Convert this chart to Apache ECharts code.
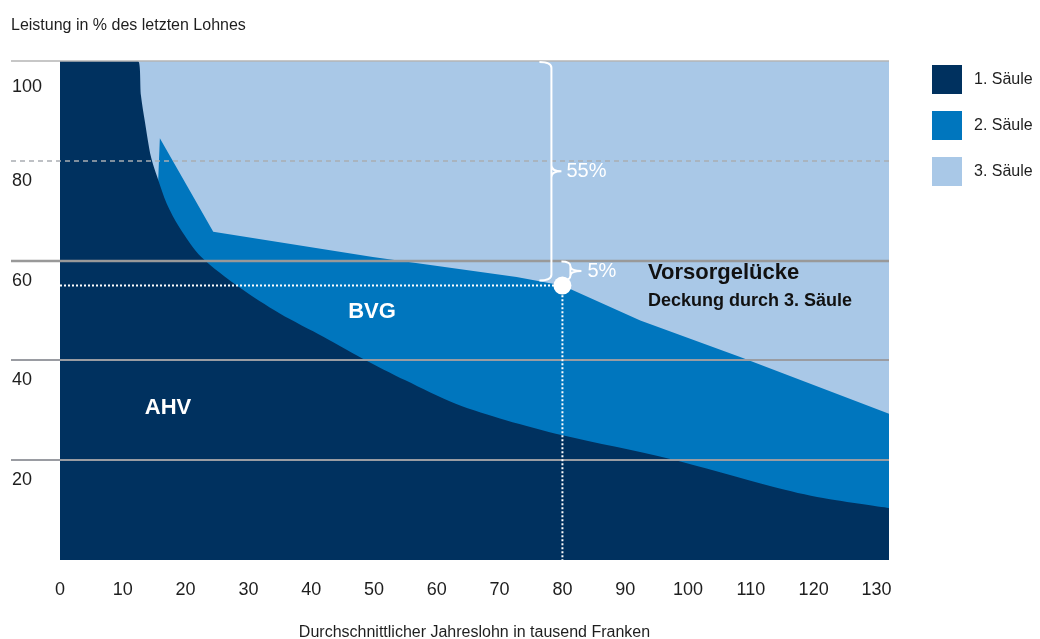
<!DOCTYPE html>
<html>
<head>
<meta charset="utf-8">
<script src="https://cdn.jsdelivr.net/npm/echarts@6/dist/echarts.min.js"></script>
<style>
  html, body { margin: 0; padding: 0; background: #ffffff; }
  #chart { width: 1040px; height: 639px; }
</style>
</head>
<body>
<div id="chart"></div>
<script>
// Salary in thousand CHF (x) against benefit in % of the last salary (y)

// 1st pillar (AHV)
const ahvSalary = [0, 12.4, 12.9, 13.5, 14.5, 15.5, 17, 19, 22.5, 28.5, 35, 42, 48, 55, 63, 71, 80, 97, 113.5, 121.5, 132];
const ahvRate   = [100, 100, 93, 88, 80.7, 76.7, 71.4, 66.7, 60.7, 54.7, 49.4, 44.7, 40.5, 36, 31.3, 28, 25, 20.3, 14.7, 12.4, 10.4];

// Level reached by 1st + 2nd pillar (AHV + BVG)
const bvgSalary = [15.6, 15.9, 24.4, 49.8, 72.7, 80, 92.4, 108.3, 132];
const bvgRate   = [75, 84.5, 65.8, 60.7, 56.7, 55, 48, 40.7, 29.3];

// 3rd pillar fills the remaining gap up to 100 %
const fullSalary = [0, 132];
const fullRate   = [100, 100];

// Example case: 80'000 CHF salary, 55 % covered, 60 % target
const exampleSalary = 80;
const exampleCover = 55;
const targetRate = 60;
const braceTops = [100, targetRate];
const braceLabels = ['55%', '5%'];

// Axis ticks
const xTicks = [0, 10, 20, 30, 40, 50, 60, 70, 80, 90, 100, 110, 120, 130];
const gridLevels = [100, 80, 60, 40, 20];

const seriesNames = ['1. Säule', '2. Säule', '3. Säule'];

const FONT = '"Liberation Sans", Arial, Helvetica, sans-serif';
const C_DARK = '#00315F';
const C_MID = '#0076BE';
const C_LIGHT = '#A9C8E7';
const C_TEXT = '#1e1e1e';

const zip = (xs, ys) => xs.map((x, i) => [x, ys[i]]);

const gridLineStyle = {
  100: { stroke: '#b4b4b4', lineWidth: 1.5 },
  80:  { stroke: '#a9adb3', lineWidth: 1.5, lineDash: [5, 4] },
  60:  { stroke: '#999999', lineWidth: 2.5 },
  40:  { stroke: '#9a9ca2', lineWidth: 2 },
  20:  { stroke: '#9a9ca2', lineWidth: 2 }
};

// brace geometry relative to the example point (pixels)
const braceShape = [
  { dx: -11, hook: 12, tip: 10, labelGap: 5 },
  { dx: 8, hook: 9, tip: 11, labelGap: 6 }
];

const chart = echarts.init(document.getElementById('chart'), null, { renderer: 'canvas' });

const option = {
  animation: false,
  textStyle: { fontFamily: FONT },
  title: {
    text: 'Leistung in % des letzten Lohnes',
    left: 11,
    top: 18,
    padding: 0,
    textStyle: { fontSize: 16, fontWeight: 'normal', color: C_TEXT, fontFamily: FONT }
  },
  legend: {
    orient: 'vertical',
    left: 932,
    top: 65,
    padding: 0,
    itemWidth: 30,
    itemHeight: 29,
    itemGap: 17,
    icon: 'rect',
    selectedMode: false,
    data: seriesNames,
    textStyle: { fontSize: 16, color: C_TEXT, fontFamily: FONT, padding: [0, 0, 0, 7] }
  },
  grid: {
    left: 60,
    right: 151,
    top: 61,
    bottom: 79,
    containLabel: false,
    outerBoundsMode: 'none'
  },
  xAxis: {
    type: 'value',
    min: 0,
    max: 132,
    interval: 10,
    name: 'Durchschnittlicher Jahreslohn in tausend Franken',
    nameLocation: 'middle',
    nameGap: 65,
    nameTextStyle: { fontSize: 16, color: C_TEXT, fontFamily: FONT },
    axisLine: { show: false },
    axisTick: { show: false },
    splitLine: { show: false },
    axisLabel: {
      fontSize: 18,
      color: C_TEXT,
      margin: 21,
      formatter: v => (xTicks.indexOf(v) >= 0 ? String(v) : '')
    }
  },
  yAxis: {
    type: 'value',
    min: 0,
    max: 100,
    interval: 20,
    axisLine: { show: false },
    axisTick: { show: false },
    splitLine: { show: false },
    axisLabel: {
      fontSize: 18,
      color: C_TEXT,
      align: 'left',
      verticalAlign: 'top',
      margin: 48,
      padding: [11, 0, 0, 0],
      showMinLabel: false,
      formatter: v => (v === 100 ? '{top|100}' : String(v)),
      rich: {
        top: { fontSize: 18, color: C_TEXT, padding: [6, 0, 0, 0] }
      }
    }
  },
  series: [
    {
      name: '3. Säule',
      type: 'line',
      z: 1,
      data: zip(fullSalary, fullRate),
      symbol: 'none',
      itemStyle: { color: C_LIGHT },
      lineStyle: { width: 0 },
      areaStyle: { color: C_LIGHT, opacity: 1 }
    },
    {
      name: '2. Säule',
      type: 'line',
      z: 2,
      data: zip(bvgSalary, bvgRate),
      symbol: 'none',
      itemStyle: { color: C_MID },
      lineStyle: { width: 0 },
      areaStyle: { color: C_MID, opacity: 1 }
    },
    {
      name: '1. Säule',
      type: 'line',
      z: 3,
      data: zip(ahvSalary, ahvRate),
      symbol: 'none',
      smooth: 0.3,
      itemStyle: { color: C_DARK },
      lineStyle: { width: 0 },
      areaStyle: { color: C_DARK, opacity: 1 }
    },
    {
      // horizontal reference lines, drawn over the areas and into the label column
      type: 'custom',
      z: 5,
      clip: false,
      silent: true,
      data: gridLevels.map(v => [0, v]),
      encode: { x: 0, y: 1 },
      renderItem: (params, api) => {
        const v = api.value(1);
        const y = Math.round(api.coord([0, v])[1]);
        const xr = api.coord([132, v])[0];
        return {
          type: 'line',
          shape: { x1: 11, y1: y, x2: xr, y2: y },
          style: Object.assign({ fill: null }, gridLineStyle[v])
        };
      }
    },
    {
      // dotted guide to the example case
      type: 'line',
      z: 6,
      silent: true,
      symbol: 'none',
      data: [[0, exampleCover], [exampleSalary, exampleCover], [exampleSalary, 0]],
      lineStyle: { color: '#ffffff', width: 2, type: [2, 2] }
    },
    {
      type: 'scatter',
      z: 7,
      silent: true,
      symbolSize: 18,
      data: [[exampleSalary, exampleCover]],
      itemStyle: { color: '#ffffff', opacity: 1 }
    },
    {
      // braces marking the covered share and the gap to the target
      type: 'custom',
      z: 7,
      clip: false,
      silent: true,
      data: braceTops.map(t => [exampleSalary, t, exampleCover]),
      encode: { x: 0, y: [1, 2] },
      renderItem: (params, api) => {
        const i = params.dataIndex;
        const s = braceShape[i];
        const top = api.coord([api.value(0), api.value(1)]);
        const bot = api.coord([api.value(0), api.value(2)]);
        const X = top[0] + s.dx;
        const y1 = top[1] + 1;
        const y2 = bot[1] - 5;
        const ym = (y1 + y2) / 2;
        const r = Math.min(6, (y2 - y1) / 4);
        const w = s.hook, p = s.tip;
        const d =
          `M ${X - w} ${y1} Q ${X} ${y1} ${X} ${y1 + r} L ${X} ${y2 - r} Q ${X} ${y2} ${X - w} ${y2} ` +
          `M ${X} ${ym - r} Q ${X} ${ym} ${X + p} ${ym} ` +
          `M ${X} ${ym + r} Q ${X} ${ym} ${X + p} ${ym}`;
        return {
          type: 'group',
          children: [
            {
              type: 'path',
              shape: { pathData: d },
              style: { stroke: '#ffffff', lineWidth: 2, fill: null }
            },
            {
              type: 'text',
              style: {
                text: braceLabels[i],
                x: X + p + s.labelGap,
                y: ym,
                fill: '#ffffff',
                font: '20px ' + FONT,
                verticalAlign: 'middle',
                align: 'left'
              }
            }
          ]
        };
      }
    }
  ],
  graphic: [
    {
      type: 'text', x: 168, y: 408, z: 10,
      style: { text: 'AHV', fill: '#ffffff', font: 'bold 22px ' + FONT, align: 'center', verticalAlign: 'middle' }
    },
    {
      type: 'text', x: 372, y: 312, z: 10,
      style: { text: 'BVG', fill: '#ffffff', font: 'bold 22px ' + FONT, align: 'center', verticalAlign: 'middle' }
    },
    {
      type: 'text', x: 648, y: 273, z: 10,
      style: { text: 'Vorsorgelücke', fill: '#111111', font: 'bold 22px ' + FONT, align: 'left', verticalAlign: 'middle' }
    },
    {
      type: 'text', x: 648, y: 301, z: 10,
      style: { text: 'Deckung durch 3. Säule', fill: '#111111', font: 'bold 18px ' + FONT, align: 'left', verticalAlign: 'middle' }
    }
  ]
};

chart.setOption(option);
</script>
</body>
</html>
